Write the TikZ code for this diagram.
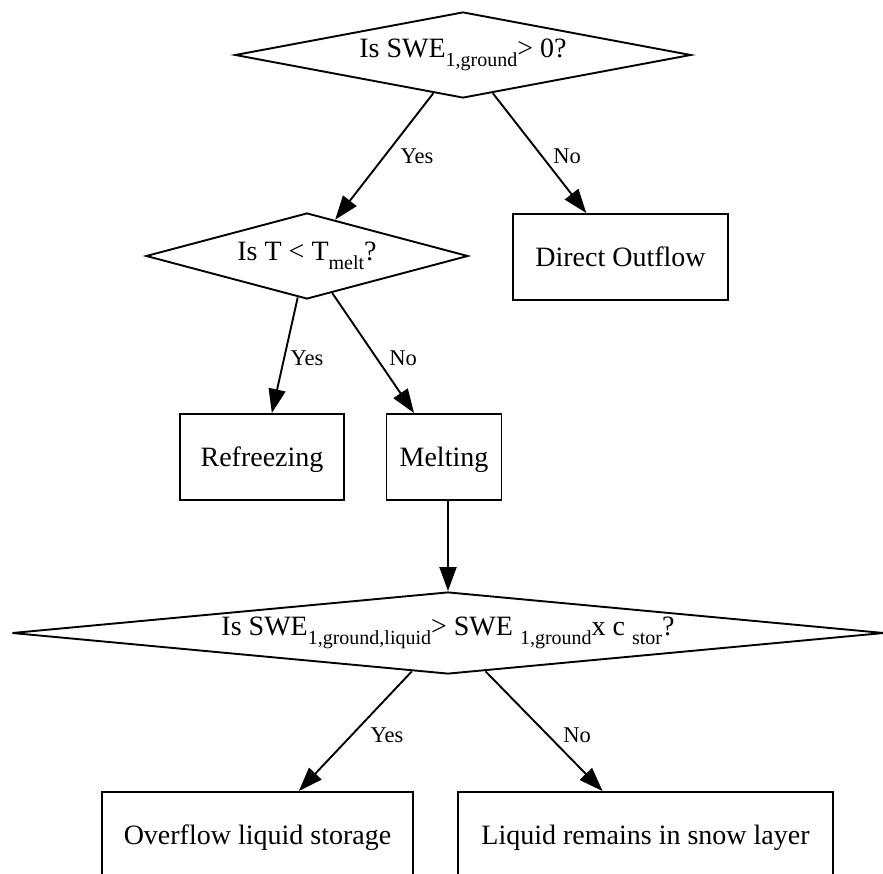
\documentclass[tikz,border=0pt]{standalone}
\usepackage{fontspec}
\setmainfont{Liberation Serif}
\usetikzlibrary{shapes.geometric,arrows.meta}
\newcommand\sbx[1]{\raisebox{-9pt}{\fontsize{20}{20}\selectfont #1}}
\begin{document}
\begin{tikzpicture}[x=1pt,y=-1pt,
  every node/.style={font=\fontsize{28}{32}\selectfont, inner sep=0pt},
  dec/.style={draw, diamond, line width=1.9pt, aspect=5},
  box/.style={draw, rectangle, line width=1.9pt, text height=18.5pt, text depth=0pt},
  lbl/.style={font=\fontsize{22.5}{26}\selectfont},
  flow/.style={line width=1.9pt, -{Triangle[length=24pt,width=17pt]}}]
\useasboundingbox (0,0) rectangle (883,874);
\clip (0,0) rectangle (883,874);

\node[dec, minimum width=456pt, minimum height=86pt] (d1) at (463,55) {Is SWE\sbx{1,ground}> 0?};
\node[dec, minimum width=322pt, minimum height=86pt] (d2) at (307,256) {Is T < T\sbx{melt}?};
\node[dec, minimum width=872pt, minimum height=82pt, aspect=10.6] (d3) at (448,633)
  {Is SWE\sbx{1,ground,liquid}> SWE \sbx{1,ground}x c \sbx{stor}?};

\node[box, minimum width=215pt, minimum height=86pt] (out) at (620.5,257) {Direct Outflow};
\node[box, minimum width=164pt, minimum height=86pt] (refr) at (262,457) {Refreezing};
\node[box, minimum width=115pt, minimum height=86pt] (melt) at (444,457) {Melting};
\node[box, minimum width=311pt, minimum height=86pt] (over) at (257.5,835) {Overflow liquid storage};
\node[box, minimum width=375pt, minimum height=86pt] (liq) at (645.5,835) {Liquid remains in snow layer};

\draw[flow] (d1) -- (d2);
\draw[flow] (d1) -- (out);
\draw[flow] (d2) -- (refr);
\draw[flow] (d2) -- (melt);
\draw[flow] (melt.south -| d3.north) -- (d3.north);
\draw[flow] (d3) -- (over);
\draw[flow] (d3) -- (liq);

\node[lbl] (l1) at (417,156) {Yes};
\node[lbl] (l2) at (567,156) {No};
\node[lbl] (l3) at (307,358) {Yes};
\node[lbl] (l4) at (403,358) {No};
\node[lbl] (l5) at (387,735) {Yes};
\node[lbl] (l6) at (577,735) {No};
\end{tikzpicture}
\end{document}
